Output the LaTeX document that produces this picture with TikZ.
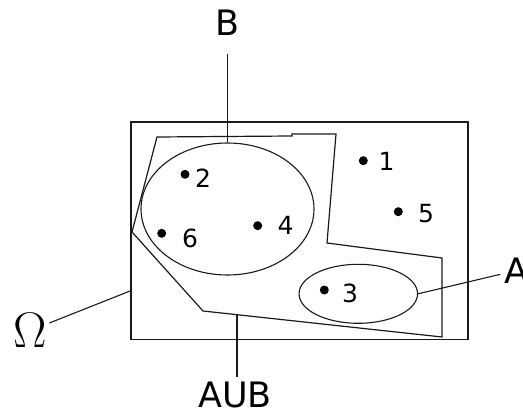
\RequirePackage{fix-cm}
\documentclass[tikz,border=0pt]{standalone}
\usepackage{fontspec}
\setmainfont{DejaVu Sans}
\usetikzlibrary{shapes.geometric}
\definecolor{set-line}{HTML}{1A1A1A}
\definecolor{dot-color}{HTML}{000000}
\tikzset{
  space-box/.style={
    draw=set-line, line width=1.3pt, inner sep=0pt,
    minimum width=337pt, minimum height=217.5pt
  },
  set-shape/.style={ellipse, draw=set-line, line width=1.1pt, inner sep=0pt},
  union-outline/.style={draw=set-line, line width=1.2pt, line join=miter},
  element-dot/.style={circle, fill=dot-color, inner sep=0pt, minimum size=9pt},
  element-label/.style={font=\fontsize{25}{25}\selectfont, inner sep=0pt},
  set-label/.style={font=\fontsize{35}{35}\selectfont, inner sep=2pt},
  pointer/.style={line width=1.1pt, draw=set-line}
}

\begin{document}
\begin{tikzpicture}[x=1pt, y=-1pt]
  \useasboundingbox (0,0) rectangle (523,412);

  \node[space-box] (omega-box) at (299.5,230.75) {};
  \draw[union-outline] (157,137) -- (292,136) -- (292,134) -- (336,134) -- (327,243)
    -- (442,258) -- (442,337) -- (203,311) -- (132,232) -- cycle;
  \coordinate (union-bottom) at (237,314.7);
  \coordinate (omega-touch) at (130,291);

  \node[set-shape, minimum width=173pt, minimum height=132pt] (set-b) at (227.5,209) {};
  \node[set-shape, minimum width=118.5pt, minimum height=59pt] (set-a) at (358.3,293.8) {};

  \node[element-dot] (dot-1) at (363.3,160.7) {};
  \node[element-dot] (dot-2) at (185,174.3) {};
  \node[element-dot] (dot-3) at (324.3,290) {};
  \node[element-dot] (dot-4) at (257.7,225.7) {};
  \node[element-dot] (dot-5) at (398.3,211.7) {};
  \node[element-dot] (dot-6) at (161.7,233.3) {};
  \node[element-label] (num-1) at (386.7,161.7) {1};
  \node[element-label] (num-2) at (203,178) {2};
  \node[element-label] (num-3) at (350,293.3) {3};
  \node[element-label] (num-4) at (285.7,225.7) {4};
  \node[element-label] (num-5) at (426,214) {5};
  \node[element-label] (num-6) at (190,238.3) {6};

  \node[set-label] (label-b) at (227.5,22.3) {B};
  \node[set-label] (label-a) at (516.5,270.5) {A};
  \node[set-label] (label-union) at (235,395) {AUB};
  \node[font=\fontsize{50}{50}\selectfont, inner sep=2pt] (label-omega) at (30.5,330.5) {$\Omega$};

  % pointers from the names to their sets
  \draw[pointer, shorten <=17pt] (label-b.south) -- (set-b.north);
  \draw[pointer, shorten >=2pt] (set-a.east) -- (label-a);
  \draw[pointer, shorten >=3pt] (union-bottom) -- (union-bottom |- label-union.north);
  \draw[pointer] (label-omega) -- (omega-touch);
\end{tikzpicture}
\end{document}
